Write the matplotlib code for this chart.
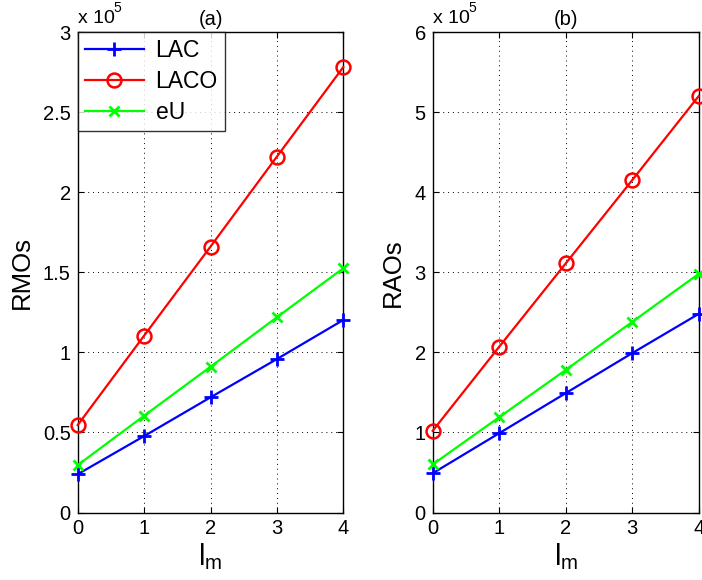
import matplotlib
matplotlib.use("Agg")
import matplotlib.pyplot as plt

plt.rcParams['font.family'] = ['Liberation Sans', 'DejaVu Sans']

x_vals = [0, 1, 2, 3, 4]
series_names = ["LAC", "LACO", "eU"]

# Panel (a): RMOs (x 10^5)
rmos_lac = [0.239, 0.477, 0.719, 0.958, 1.202]
rmos_laco = [0.546, 1.104, 1.660, 2.222, 2.781]
rmos_eu = [0.296, 0.604, 0.910, 1.219, 1.525]

# Panel (b): RAOs (x 10^5)
raos_lac = [0.49, 0.99, 1.49, 1.99, 2.48]
raos_laco = [1.02, 2.07, 3.11, 4.15, 5.20]
raos_eu = [0.60, 1.19, 1.78, 2.38, 2.98]

left_yticks = [0, 0.5, 1, 1.5, 2, 2.5, 3]
left_yticklabels = ["0", "0.5", "1", "1.5", "2", "2.5", "3"]
right_yticks = [0, 1, 2, 3, 4, 5, 6]
right_yticklabels = ["0", "1", "2", "3", "4", "5", "6"]

colors = ["#0000ff", "#ff0000", "#00ff00"]
markers = ["+", "o", "x"]
msizes = [10, 10, 7]

fig = plt.figure(figsize=(7.02, 5.8), dpi=100)
W, H = 702.0, 580.0
axL = fig.add_axes([77.7 / W, (580 - 512.5) / H, 265.6 / W, 480.5 / H])
axR = fig.add_axes([432.7 / W, (580 - 512.5) / H, 266.0 / W, 480.5 / H])

def style(ax, series, yticks, ylabels, ylim, ylabel, title, ylab_x):
    for vals, name, c, m, ms in zip(series, series_names, colors, markers, msizes):
        ax.plot(x_vals, vals, color=c, marker=m, markersize=ms, linewidth=1.6,
                markeredgewidth=2.0 if m != "o" else 1.8,
                markerfacecolor="none", label=name, clip_on=False, zorder=3)
    ax.set_xlim(0, 4)
    ax.set_ylim(*ylim)
    ax.set_xticks(x_vals)
    ax.set_xticklabels([str(v) for v in x_vals])
    ax.set_yticks(yticks)
    ax.set_yticklabels(ylabels)
    ax.tick_params(direction="in", length=4, width=0.8, top=True, right=True,
                   labelsize=14.5, pad=5)
    ax.grid(True, color="black", linestyle=(0, (1, 4)), linewidth=0.7)
    for s in ax.spines.values():
        s.set_linewidth(1.0)
    ax.set_ylabel(ylabel, fontsize=18.5)
    ax.yaxis.set_label_coords(ylab_x, 0.5)
    ax.set_xlabel(r"$\mathregular{l_m}$", fontsize=21)
    ax.xaxis.set_label_coords(0.5, -0.06)
    ax.set_title(title, fontsize=14.5, pad=5)
    ax.text(0.0, 1.01, "x 10", transform=ax.transAxes, fontsize=14,
            ha="left", va="bottom")
    ax.text(0.135, 1.035, "5", transform=ax.transAxes, fontsize=10,
            ha="left", va="bottom")

style(axL, [rmos_lac, rmos_laco, rmos_eu], left_yticks, left_yticklabels,
      (0, 3), "RMOs", "(a)", -0.165)
style(axR, [raos_lac, raos_laco, raos_eu], right_yticks, right_yticklabels,
      (0, 6), "RAOs", "(b)", -0.105)

leg = axL.legend(loc="upper left", fontsize=16.5, frameon=True, fancybox=False,
                 edgecolor="black", borderaxespad=0.0, handlelength=2.6,
                 borderpad=0.3, labelspacing=0.35, handletextpad=0.5)
leg.get_frame().set_linewidth(1.0)

fig.savefig("out.png", dpi=100)
